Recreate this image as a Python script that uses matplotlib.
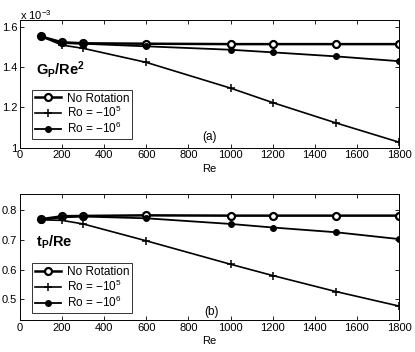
import matplotlib
matplotlib.use("Agg")
import matplotlib.pyplot as plt

plt.rcParams['font.family'] = ['Liberation Sans', 'DejaVu Sans']
plt.rcParams['mathtext.fontset'] = 'custom'
plt.rcParams['mathtext.rm'] = 'Liberation Sans'
plt.rcParams['mathtext.it'] = 'Liberation Sans:italic'
plt.rcParams['mathtext.bf'] = 'Liberation Sans:bold'

re_vals = [100, 200, 300, 600, 1000, 1200, 1500, 1800]

# Panel (a): G_P/Re^2 in units of 1e-3
gp_norot = [1.553, 1.524, 1.519, 1.517, 1.515, 1.515, 1.515, 1.515]
gp_ro5 = [1.553, 1.510, 1.494, 1.424, 1.296, 1.224, 1.123, 1.027]
gp_ro6 = [1.553, 1.520, 1.517, 1.504, 1.487, 1.474, 1.454, 1.430]

# Panel (b): t_P/Re
tp_norot = [0.770, 0.780, 0.781, 0.783, 0.782, 0.782, 0.782, 0.782]
tp_ro5 = [0.768, 0.766, 0.754, 0.697, 0.618, 0.580, 0.526, 0.477]
tp_ro6 = [0.768, 0.776, 0.779, 0.773, 0.754, 0.742, 0.726, 0.703]

labels = ['No Rotation', r'Ro = $\mathrm{-10^5}$', r'Ro = $\mathrm{-10^6}$']
xticks = [0, 200, 400, 600, 800, 1000, 1200, 1400, 1600, 1800]

fig = plt.figure(figsize=(4.15, 3.52), dpi=100)
ax1 = fig.add_axes([20/415, 1-147.6/352, 379/415, (147.6-20)/352])
ax2 = fig.add_axes([20/415, 1-320/352, 379/415, (320-194)/352])

def draw(ax, y0, y1, y2, legy):
    ax.plot(re_vals, y0, color='black', lw=1.8, marker='o', ms=5,
            mfc='white', mec='black', mew=1.6, label=labels[0])
    ax.plot(re_vals, y1, color='black', lw=1.2, marker='+', ms=5.5,
            mew=1.1, label=labels[1])
    ax.plot(re_vals, y2, color='black', lw=1.3, marker='o', ms=4,
            mfc='black', mec='black', label=labels[2])
    ax.set_xlim(0, 1800)
    ax.set_xticks(xticks)
    ax.tick_params(direction='in', labelsize=8, length=3, width=0.6,
                   top=True, right=True, pad=2)
    for s in ax.spines.values():
        s.set_linewidth(0.7)
    ax.set_xlabel('Re', fontsize=8, labelpad=2.5)
    leg = ax.legend(loc='lower left', bbox_to_anchor=(0.032, legy), fontsize=8.5,
                    frameon=True, fancybox=False, edgecolor='black',
                    handlelength=2.2, handletextpad=0.5, borderpad=0.25,
                    labelspacing=0.05, borderaxespad=0)
    leg.get_frame().set_linewidth(0.7)

draw(ax1, gp_norot, gp_ro5, gp_ro6, 0.067)
ax1.set_ylim(1.0, 1.635)
ax1.set_yticks([1.0, 1.2, 1.4, 1.6])
ax1.set_yticklabels(['1', '1.2', '1.4', '1.6'])
ax1.text(0.042, 0.61, r'$\mathbf{G_P/Re^2}$', transform=ax1.transAxes,
         fontsize=10.5, ha='left', va='center')
ax1.text(0.4987, 0.083, '(a)', transform=ax1.transAxes, fontsize=8.5,
         ha='center', va='center')
fig.text(20/415, 1-15/352, r'x 10$^{-3}$', fontsize=8, ha='left', va='center')

draw(ax2, tp_norot, tp_ro5, tp_ro6, 0.056)
ax2.set_ylim(0.43, 0.855)
ax2.set_yticks([0.5, 0.6, 0.7, 0.8])
ax2.text(0.042, 0.62, r'$\mathbf{t_P/Re}$', transform=ax2.transAxes,
         fontsize=10.5, ha='left', va='center')
ax2.text(0.504, 0.063, '(b)', transform=ax2.transAxes, fontsize=8.5,
         ha='center', va='center')

fig.savefig('out.png', dpi=100)
